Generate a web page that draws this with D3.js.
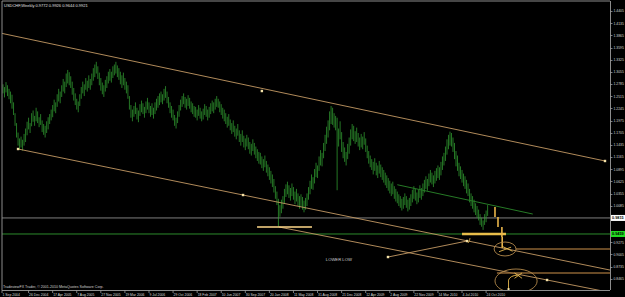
<!DOCTYPE html>
<html>
<head>
<meta charset="utf-8">
<title>USDCHF weekly</title>
<script src="https://cdn.jsdelivr.net/npm/d3@7"></script>
<style>
	body, html{
		margin: 0;
		padding: 0;
		background: #000;
		overflow: hidden;
	}
	svg{
		display: block;
	}
	text{
		font-family: "Liberation Sans", Arial, sans-serif;
	}
</style>
</head>
<body>
<svg id="chart" width="625" height="297"></svg>
<script>
var titleText = "USDCHF,Weekly  0.9772 0.9926 0.9644 0.9921";
var footerText = "TradeviewFX Trader, \u00a9 2001-2010 MetaQuotes Software Corp.";
var firstWeek = "2004-08-29";

// weekly highs / lows
var highs = [
1.278,1.272,1.283,1.276,1.268,1.262,1.255,1.238,1.214,1.192,
1.171,1.158,1.162,1.155,1.168,1.180,1.195,1.204,1.192,1.214,
1.220,1.208,1.226,1.218,1.205,1.212,1.198,1.190,1.186,1.196,
1.205,1.212,1.222,1.232,1.244,1.238,1.256,1.268,1.262,1.276,
1.290,1.284,1.302,1.310,1.305,1.296,1.284,1.270,1.258,1.246,
1.240,1.256,1.272,1.284,1.278,1.292,1.286,1.298,1.290,1.302,
1.314,1.322,1.328,1.318,1.304,1.292,1.282,1.276,1.288,1.296,
1.306,1.312,1.306,1.318,1.322,1.328,1.320,1.314,1.306,1.298,
1.304,1.292,1.284,1.276,1.252,1.232,1.222,1.230,1.238,1.226,
1.220,1.234,1.242,1.236,1.228,1.240,1.248,1.238,1.230,1.236,
1.226,1.238,1.246,1.252,1.258,1.262,1.256,1.268,1.274,1.262,
1.250,1.238,1.230,1.222,1.210,1.204,1.218,1.232,1.244,1.252,
1.258,1.250,1.246,1.254,1.248,1.240,1.236,1.230,1.228,1.222,
1.232,1.226,1.218,1.224,1.234,1.230,1.222,1.228,1.236,1.242,
1.238,1.246,1.252,1.246,1.240,1.234,1.226,1.222,1.214,1.206,
1.212,1.200,1.192,1.198,1.186,1.180,1.190,1.176,1.168,1.176,
1.164,1.158,1.166,1.160,1.150,1.146,1.156,1.148,1.140,1.134,
1.128,1.126,1.118,1.112,1.120,1.108,1.100,1.094,1.086,1.078,
1.068,1.052,1.040,1.024,1.010,1.022,1.030,1.046,1.056,1.062,
1.054,1.048,1.058,1.050,1.040,1.046,1.036,1.030,1.034,1.028,
1.020,1.026,1.036,1.050,1.064,1.078,1.072,1.090,1.104,1.098,
1.118,1.132,1.126,1.148,1.166,1.184,1.198,1.218,1.230,1.226,
1.214,1.208,1.204,1.180,1.196,1.172,1.150,1.138,1.128,1.146,
1.160,1.178,1.190,1.186,1.174,1.182,1.170,1.160,1.168,1.162,
1.172,1.158,1.142,1.130,1.120,1.112,1.106,1.114,1.104,1.098,
1.108,1.100,1.094,1.088,1.082,1.076,1.070,1.064,1.058,1.062,
1.052,1.046,1.040,1.034,1.030,1.024,1.028,1.036,1.030,1.022,
1.026,1.034,1.044,1.052,1.046,1.038,1.044,1.054,1.048,1.058,
1.066,1.074,1.068,1.080,1.088,1.082,1.076,1.086,1.092,1.098,
1.094,1.106,1.118,1.126,1.140,1.156,1.166,1.173,1.170,1.160,
1.148,1.130,1.120,1.104,1.096,1.088,1.080,1.074,1.066,1.058,
1.046,1.036,1.030,1.022,1.014,1.008,1.000,0.990,0.982,0.976,
0.990,0.998,1.010
];
var lows = [
1.258,1.249,1.260,1.252,1.245,1.236,1.224,1.210,1.186,1.160,
1.142,1.133,1.138,1.131,1.142,1.150,1.165,1.178,1.170,1.185,
1.195,1.186,1.196,1.192,1.183,1.188,1.172,1.166,1.160,1.170,
1.178,1.190,1.198,1.205,1.218,1.214,1.228,1.240,1.236,1.250,
1.262,1.258,1.272,1.280,1.276,1.270,1.255,1.242,1.232,1.222,
1.216,1.230,1.246,1.258,1.252,1.266,1.262,1.270,1.266,1.276,
1.286,1.294,1.302,1.290,1.276,1.264,1.256,1.250,1.262,1.270,
1.280,1.286,1.282,1.292,1.298,1.302,1.294,1.288,1.278,1.270,
1.276,1.266,1.258,1.246,1.222,1.204,1.196,1.206,1.212,1.200,
1.194,1.208,1.216,1.212,1.204,1.214,1.222,1.214,1.206,1.210,
1.202,1.212,1.220,1.226,1.232,1.238,1.234,1.242,1.248,1.236,
1.226,1.214,1.204,1.198,1.186,1.180,1.192,1.206,1.220,1.228,
1.234,1.226,1.222,1.230,1.224,1.216,1.212,1.206,1.204,1.198,
1.208,1.202,1.196,1.200,1.210,1.206,1.198,1.204,1.212,1.218,
1.214,1.222,1.228,1.226,1.216,1.210,1.202,1.196,1.190,1.182,
1.186,1.176,1.168,1.172,1.162,1.156,1.164,1.150,1.142,1.150,
1.138,1.132,1.140,1.134,1.124,1.120,1.130,1.122,1.114,1.108,
1.102,1.100,1.092,1.086,1.094,1.082,1.074,1.066,1.058,1.050,
1.038,1.024,1.010,0.962,0.984,0.992,1.002,1.014,1.028,1.034,
1.026,1.020,1.030,1.022,1.012,1.018,1.008,1.002,1.006,1.000,
0.994,1.000,1.008,1.022,1.034,1.046,1.044,1.058,1.072,1.070,
1.086,1.098,1.096,1.114,1.130,1.146,1.160,1.176,1.190,1.188,
1.182,1.176,1.043,1.140,1.156,1.128,1.114,1.106,1.098,1.112,
1.124,1.142,1.156,1.152,1.146,1.150,1.140,1.132,1.138,1.134,
1.144,1.128,1.114,1.102,1.094,1.088,1.078,1.086,1.076,1.070,
1.080,1.072,1.066,1.060,1.054,1.048,1.042,1.036,1.030,1.034,
1.024,1.018,1.014,1.008,1.004,0.998,1.002,1.010,1.004,0.996,
1.000,1.008,1.016,1.024,1.020,1.012,1.016,1.026,1.022,1.030,
1.038,1.046,1.042,1.052,1.060,1.056,1.050,1.058,1.064,1.070,
1.066,1.076,1.088,1.098,1.108,1.122,1.134,1.142,1.140,1.128,
1.112,1.096,1.086,1.074,1.068,1.060,1.052,1.046,1.036,1.030,
1.016,1.008,1.002,0.994,0.988,0.982,0.976,0.966,0.962,0.955,
0.966,0.972,0.986
];

var priceTicks = [1.4405,1.4135,1.3865,1.3595,1.3325,1.3055,1.2785,1.2515,1.2245,1.1975,
	1.1705,1.1435,1.1165,1.0895,1.0625,1.0355,1.0085,0.9815,0.9545,0.9275,0.9005,0.8735,0.8465];
var dateLabels = ["1 Sep 2004","26 Dec 2004","17 Apr 2005","7 Aug 2005","27 Nov 2005","19 Mar 2006",
	"9 Jul 2006","29 Oct 2006","18 Feb 2007","10 Jun 2007","30 Sep 2007","20 Jan 2008","11 May 2008",
	"31 Aug 2008","21 Dec 2008","12 Apr 2009","2 Aug 2009","22 Nov 2009","14 Mar 2010","4 Jul 2010","24 Oct 2010"];

var bidPrice = 0.9815;
var hlinePrice = 0.9459;

// drawn objects, [week index, price]
var channelTop = [[-2, 1.3920], [400, 1.1079]];
var channelTopMarks = [[172, 1.2632], [400, 1.1079]];
var channelLow = [[10, 1.1345], [159.5, 1.0324]];
var channelLow2 = [[183.4, 0.9614], [361.5, 0.8438]];
var risingLine = [[255.8, 0.8948], [308.3, 0.9303]];
var greenTrend = [[262, 1.0552], [352, 0.9902]];
var lowLine2008 = [[168.8, 0.9614], [205.3, 0.9614]];
var lowLine2010 = [[305, 0.9459], [334.2, 0.9459]];
var projBars = [[326.9, 1.0058, 0.9836], [328.9, 0.9836, 0.9614], [331.5, 0.9614, 0.9392], [331.7, 0.9392, 0.9150]];
var targetLines = [[340.9, 0.9126], [328.2, 0.8593]];
var ellipses = [[333.6, 0.9126, 7.3, 0.0155], [340.9, 0.8416, 14, 0.0266]];
var noteText = "LOWER LOW";
var notePos = [214.5, 0.8870];

var W = 625, H = 297,
	plotL = 2, plotR = 610, plotT = 1, plotB = 290;

var svg = d3.select('#chart');
var x = d3.scaleLinear().domain([0, 320]).range([3, 484.6]);
var y = d3.scaleLinear().domain([0.8216, 1.4652]).range([plotB, 0]);
var t0 = d3.timeParse('%Y-%m-%d')(firstWeek);
var parseLabel = d3.timeParse('%d %b %Y');
function weekOf(d) { return (d - t0) / (7 * 864e5); }

svg.append('rect').attr('width', W).attr('height', H).attr('fill', '#000');

svg.append('clipPath').attr('id', 'plot')
	.append('rect').attr('x', plotL).attr('y', plotT).attr('width', plotR - plotL).attr('height', plotB - plotT);

var g = svg.append('g').attr('clip-path', 'url(#plot)');

function seg(pts, color, w) {
	var p0 = pts[0], p1 = pts[1];
	return g.append('line')
		.attr('x1', x(p0[0])).attr('y1', y(p0[1]))
		.attr('x2', x(p1[0])).attr('y2', y(p1[1]))
		.attr('stroke', color).attr('stroke-width', w);
}
// ray: extend past second point to the plot's right edge
function ray(pts, color, w) {
	var p0 = pts[0], p1 = pts[1];
	var slope = (p1[1] - p0[1]) / (p1[0] - p0[0]);
	var xEnd = x.invert(plotR + 5);
	return seg([p0, [xEnd, p0[1] + slope * (xEnd - p0[0])]], color, w);
}

// horizontal lines
g.append('line').attr('x1', plotL).attr('x2', plotR).attr('y1', y(bidPrice)).attr('y2', y(bidPrice))
	.attr('stroke', '#7d7d7d').attr('stroke-width', 1);
g.append('line').attr('x1', plotL).attr('x2', plotR).attr('y1', y(hlinePrice)).attr('y2', y(hlinePrice))
	.attr('stroke', '#2c8a2c').attr('stroke-width', 1);

// price bars
var bars = d3.range(highs.length);
g.selectAll('line.bar').data(bars).enter().append('line')
	.attr('class', 'bar')
	.attr('x1', function(i){ return x(i); }).attr('x2', function(i){ return x(i); })
	.attr('y1', function(i){ return y(highs[i]); }).attr('y2', function(i){ return y(lows[i]); })
	.attr('stroke', '#35a935').attr('stroke-width', 0.7);

// channel lines
var tan = '#c49a64';
seg(channelTop, tan, 0.9);
ray(channelLow, tan, 0.9);
ray(channelLow2, tan, 0.9);
seg(risingLine, tan, 0.9);
seg(greenTrend, '#267a26', 1);

// markers on anchors
var marks = channelTopMarks.concat(channelLow, [channelLow2[1]], risingLine);
g.selectAll('rect.mark').data(marks).enter().append('rect')
	.attr('class', 'mark')
	.attr('x', function(d){ return x(d[0]) - 1.2; }).attr('y', function(d){ return y(d[1]) - 1.2; })
	.attr('width', 2.4).attr('height', 2.4).attr('fill', '#f4e2a8');

// yellow lines / projection
seg(lowLine2008, '#ffd98a', 1.6);
seg(lowLine2010, '#e8bd4a', 2.4);
g.selectAll('line.proj').data(projBars).enter().append('line')
	.attr('class', 'proj')
	.attr('x1', function(d){ return x(d[0]); }).attr('x2', function(d){ return x(d[0]); })
	.attr('y1', function(d){ return y(d[1]); }).attr('y2', function(d){ return y(d[2]); })
	.attr('stroke', '#e9b54a').attr('stroke-width', 1.6);

// target lines out of the ellipses
g.selectAll('line.target').data(targetLines).enter().append('line')
	.attr('class', 'target')
	.attr('x1', function(d){ return x(d[0]); }).attr('x2', plotR)
	.attr('y1', function(d){ return y(d[1]); }).attr('y2', function(d){ return y(d[1]); })
	.attr('stroke', '#8a6232').attr('stroke-width', 1.6);

g.selectAll('ellipse').data(ellipses).enter().append('ellipse')
	.attr('cx', function(d){ return x(d[0]); }).attr('cy', function(d){ return y(d[1]); })
	.attr('rx', function(d){ return x(d[2]) - x(0); })
	.attr('ry', function(d){ return y(0.9) - y(0.9 + d[3]); })
	.attr('fill', 'none').attr('stroke', '#b48a4c').attr('stroke-width', 0.9);

// little sketch strokes inside the ellipses
var e1 = ellipses[0], e2 = ellipses[1];
var sketch = d3.path();
sketch.moveTo(x(e1[0] - 4), y(e1[1] - 0.006)); sketch.lineTo(x(e1[0] + 4), y(e1[1] + 0.004));
sketch.moveTo(x(e1[0] - 2), y(e1[1] + 0.006)); sketch.lineTo(x(e1[0] + 5), y(e1[1] - 0.005));
sketch.moveTo(x(e2[0] - 5), y(e2[1] - 0.018)); sketch.lineTo(x(e2[0] - 5), y(e2[1] + 0.002));
sketch.quadraticCurveTo(x(e2[0] - 4), y(e2[1] + 0.012), x(e2[0] + 1), y(e2[1] + 0.013));
sketch.moveTo(x(e2[0] - 1), y(e2[1] + 0.018)); sketch.lineTo(x(e2[0] + 4), y(e2[1] + 0.006));
sketch.moveTo(x(e2[0] - 1), y(e2[1] + 0.006)); sketch.lineTo(x(e2[0] + 4), y(e2[1] + 0.018));
g.append('path').attr('d', sketch.toString()).attr('fill', 'none')
	.attr('stroke', '#e7b84e').attr('stroke-width', 0.9);
g.append('rect').attr('x', x(e2[0] - 5) - 1).attr('y', y(e2[1] - 0.018) - 1)
	.attr('width', 2).attr('height', 2).attr('fill', '#f4e2a8');

// arrow tick at rising line end
var ar = risingLine[1];
var ap = d3.path();
ap.moveTo(x(ar[0]) + 1, y(ar[1]) + 2); ap.quadraticCurveTo(x(ar[0]) + 3, y(ar[1]), x(ar[0]) + 3, y(ar[1]) - 3);
g.append('path').attr('d', ap.toString()).attr('fill', 'none').attr('stroke', '#e7b84e').attr('stroke-width', 0.8);

g.append('text').attr('x', x(notePos[0])).attr('y', y(notePos[1]))
	.attr('fill', '#cfcfcf').attr('font-size', 4.2).text(noteText);

// frame
svg.append('line').attr('x1', plotL).attr('x2', plotR).attr('y1', plotT).attr('y2', plotT).attr('stroke', '#8c8c8c').attr('stroke-width', 1);
svg.append('line').attr('x1', plotL).attr('x2', plotL).attr('y1', plotT).attr('y2', plotB).attr('stroke', '#8c8c8c').attr('stroke-width', 1);
svg.append('line').attr('x1', plotR + 0.5).attr('x2', plotR + 0.5).attr('y1', plotT).attr('y2', plotB).attr('stroke', '#8c8c8c').attr('stroke-width', 1);
svg.append('line').attr('x1', plotL).attr('x2', plotR).attr('y1', plotB + 0.5).attr('y2', plotB + 0.5).attr('stroke', '#8c8c8c').attr('stroke-width', 1);

// price axis
var pa = svg.append('g');
priceTicks.forEach(function(p) {
	var yy = y(p);
	if (Math.abs(yy - y(bidPrice)) < 4 || Math.abs(yy - y(hlinePrice)) < 4) return;
	pa.append('line').attr('x1', plotR).attr('x2', plotR + 2.5).attr('y1', Math.round(yy) + 0.5).attr('y2', Math.round(yy) + 0.5)
		.attr('stroke', '#9a9a9a').attr('stroke-width', 0.8);
	pa.append('text').attr('x', plotR + 3.5).attr('y', yy + 1.3).attr('fill', '#d8d8d8').attr('font-size', 3.4)
		.text(p.toFixed(4));
});
function priceBox(p, bg) {
	pa.append('rect').attr('x', plotR + 1).attr('y', y(p) - 3).attr('width', 14).attr('height', 6).attr('fill', bg);
	pa.append('text').attr('x', plotR + 2).attr('y', y(p) + 1.5).attr('fill', '#000').attr('font-size', 3.8)
		.attr('font-weight', 'bold').text(p.toFixed(4));
}
priceBox(bidPrice, '#ffffff');
priceBox(hlinePrice, '#22dd22');

// time axis
var ta = svg.append('g');
dateLabels.forEach(function(s, k) {
	var xx = k === 0 ? plotL : x(weekOf(parseLabel(s)));
	ta.append('line').attr('x1', xx).attr('x2', xx).attr('y1', plotB).attr('y2', plotB + 3)
		.attr('stroke', '#9a9a9a').attr('stroke-width', 0.8);
	ta.append('text').attr('x', xx + 0.5).attr('y', plotB + 5.5).attr('fill', '#d8d8d8').attr('font-size', 3.4).text(s);
});

svg.append('text').attr('x', 4).attr('y', 7).attr('fill', '#e0e0e0').attr('font-size', 4).text(titleText);
svg.append('text').attr('x', 3).attr('y', 288).attr('fill', '#d0d0d0').attr('font-size', 3.6).text(footerText);
</script>
</body>
</html>
